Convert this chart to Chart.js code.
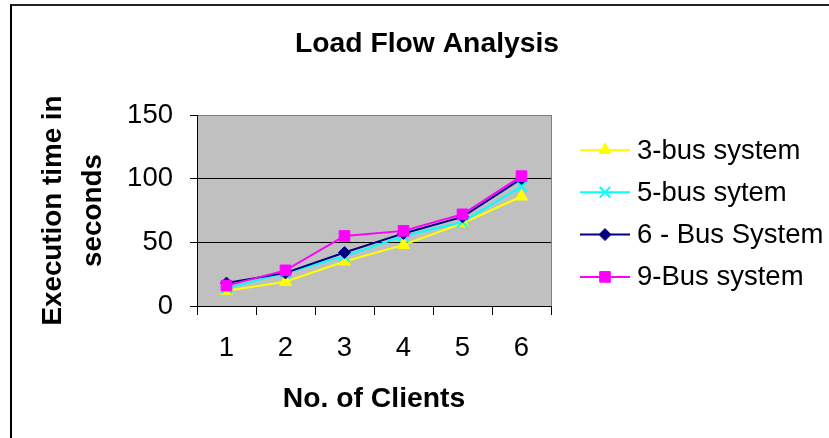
<!DOCTYPE html>
<html>
<head>
<meta charset="utf-8">
<script src="https://cdn.jsdelivr.net/npm/chart.js@4/dist/chart.umd.min.js"></script>
<style>
  html, body { margin: 0; padding: 0; background: #fff; }
  #wrap { position: relative; width: 829px; height: 438px; overflow: hidden; }
  #frame { position: absolute; left: 10px; top: 4px; right: -10px; bottom: -10px;
           border-top: 2px solid #222; border-left: 2px solid #000; }
  canvas { position: absolute; left: 0; top: 0; }
</style>
</head>
<body>
<div id="wrap">
  <div id="frame"></div>
  <canvas id="chart" width="829" height="438"></canvas>
</div>
<script>
// data
const clients = ['1', '2', '3', '4', '5', '6'];
const bus3 = [12, 19, 35, 48, 65, 86];
const bus5 = [14, 26, 39, 55, 66, 94];
const bus6 = [18, 26, 42, 57, 70, 100];
const bus9 = [16, 28, 55, 59, 72, 102];
const seriesNames = ['3-bus system', '5-bus sytem', '6 - Bus System', '9-Bus system'];
const yTicks = [0, 50, 100, 150];

const FONT = "'Liberation Sans', Arial, sans-serif";

// grey plot area + right edge
const plotBg = {
    id: 'plotBg',
    beforeDraw(chart) {
        const { ctx, chartArea: a } = chart;
        ctx.save();
        ctx.fillStyle = '#c0c0c0';
        ctx.fillRect(a.left, a.top, a.right - a.left, a.bottom - a.top);
        ctx.strokeStyle = '#808080';
        ctx.lineWidth = 1;
        ctx.beginPath();
        ctx.moveTo(a.right + 0.5, a.top);
        ctx.lineTo(a.right + 0.5, a.bottom);
        ctx.stroke();
        ctx.restore();
    }
};

// title and legend drawn by hand (line + marker like the original)
const titleAndLegend = {
    id: 'titleAndLegend',
    afterDraw(chart) {
        const ctx = chart.ctx;
        ctx.save();
        ctx.fillStyle = '#000';
        ctx.font = 'bold 28.3px ' + FONT;
        ctx.textAlign = 'center';
        ctx.textBaseline = 'middle';
        ctx.fillText('Load Flow Analysis', 427, 44);

        ctx.textAlign = 'left';
        chart.data.datasets.forEach((ds, i) => {
            const y = 150 + i * 42.3;
            ctx.strokeStyle = ds.borderColor;
            ctx.fillStyle = ds.pointBackgroundColor;
            ctx.lineWidth = 2;
            ctx.beginPath();
            ctx.moveTo(580, y);
            ctx.lineTo(630, y);
            ctx.stroke();
            ctx.lineWidth = ds.pointBorderWidth;
            Chart.helpers.drawPoint(ctx, {
                pointStyle: ds.pointStyle,
                radius: ds.pointRadius,
                borderWidth: ds.pointBorderWidth
            }, 605, y);
            ctx.fillStyle = '#000';
            ctx.font = '27.5px ' + FONT;
            ctx.fillText(ds.label, 637, y + 1);
        });
        ctx.restore();
    }
};

function series(label, data, color, style, radius, order) {
    return {
        label: label,
        data: data,
        borderColor: color,
        backgroundColor: color,
        pointBackgroundColor: color,
        pointBorderColor: color,
        borderWidth: 2,
        pointStyle: style,
        pointRadius: radius,
        pointBorderWidth: style === 'crossRot' ? 2 : 1,
        tension: 0,
        order: order
    };
}

new Chart(document.getElementById('chart'), {
    type: 'line',
    data: {
        labels: clients,
        datasets: [
            series(seriesNames[0], bus3, '#ffff00', 'triangle', 7, 4),
            series(seriesNames[1], bus5, '#00ffff', 'crossRot', 7.5, 3),
            series(seriesNames[2], bus6, '#000080', 'rectRot', 6, 2),
            series(seriesNames[3], bus9, '#ff00ff', 'rect', 7.5, 1)
        ]
    },
    options: {
        responsive: false,
        animation: false,
        events: [],
        layout: { padding: { left: 0, top: 115, right: 278, bottom: 0 } },
        plugins: {
            legend: { display: false },
            title: { display: false },
            tooltip: { enabled: false }
        },
        scales: {
            x: {
                type: 'category',
                offset: true,
                afterFit(scale) { scale.height = 132; },
                grid: {
                    drawOnChartArea: false,
                    drawTicks: true,
                    tickLength: 9,
                    offset: true,
                    color: '#000',
                    tickColor: '#000'
                },
                border: { color: '#000', width: 1 },
                ticks: {
                    color: '#000',
                    padding: 17,
                    font: { family: FONT, size: 27.5 }
                },
                title: {
                    display: true,
                    text: 'No. of Clients',
                    color: '#000',
                    font: { family: FONT, size: 28.3, weight: 'bold', lineHeight: 1.2 },
                    padding: { top: 0, bottom: 22 }
                }
            },
            y: {
                min: yTicks[0],
                max: yTicks[yTicks.length - 1],
                afterFit(scale) { scale.width = 197; },
                afterBuildTicks(scale) { scale.ticks = yTicks.map(v => ({ value: v })); },
                grid: {
                    color: c => (c.tick && c.tick.value === 150) ? '#808080' : '#000',
                    tickColor: '#000',
                    tickLength: 7,
                    lineWidth: 1
                },
                border: { color: '#000', width: 1 },
                ticks: {
                    color: '#000',
                    padding: 17,
                    font: { family: FONT, size: 27.5 }
                },
                title: {
                    display: true,
                    text: ['Execution time in', 'seconds'],
                    color: '#000',
                    font: { family: FONT, size: 27.8, weight: 'bold', lineHeight: '40px' },
                    padding: { top: 33, bottom: 0 }
                }
            }
        }
    },
    plugins: [plotBg, titleAndLegend]
});
</script>
</body>
</html>
